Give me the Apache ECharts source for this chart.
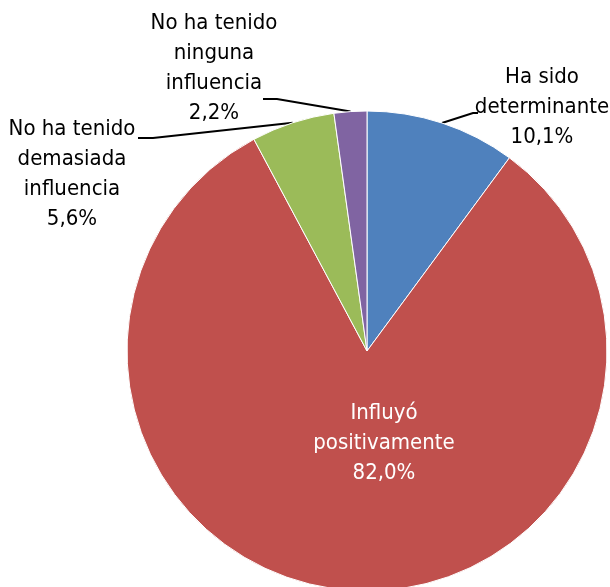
<!DOCTYPE html>
<html>
<head>
<meta charset="utf-8">
<script src="https://cdn.jsdelivr.net/npm/echarts@6/dist/echarts.min.js"></script>
<style>
  html, body { margin: 0; padding: 0; background: #fff; }
  #chart { width: 610px; height: 587px; }
</style>
</head>
<body>
<div id="chart"></div>
<script>
// categories and shares (%) in drawing order, clockwise from 12 o'clock
const categories = [
  'Ha sido\ndeterminante',
  'Influyó\npositivamente',
  'No ha tenido\ndemasiada\ninfluencia',
  'No ha tenido\nninguna\ninfluencia'
]
const values = [10.1, 82.0, 5.6, 2.2]
const colors = ['#4f81bd', '#c0504d', '#9bbb59', '#8064a2']

const center = [367, 351]
const radius = 240

// where each label block is centred, and the elbow of its leader line (px)
const labelPos = [[542, 107], [384, 443], [72, 174], [214, 68]]
const elbows = [
  [[473, 113], [478, 113]],
  null,
  [[153, 138], [138, 138]],
  [[277, 99], [263, 99]]
]

const total = values.reduce((a, b) => a + b, 0)
// point on the rim at the middle of slice i
function rimPoint (i) {
  const before = values.slice(0, i).reduce((a, b) => a + b, 0)
  const ang = (before + values[i] / 2) / total * Math.PI * 2
  return [center[0] + radius * Math.sin(ang), center[1] - radius * Math.cos(ang)]
}

const chart = echarts.init(document.getElementById('chart'))
chart.setOption({
  animation: false,
  series: [{
    type: 'pie',
    center: center,
    radius: radius,
    startAngle: 90,
    clockwise: true,
    itemStyle: {
      borderColor: '#fff',
      borderWidth: 1
    },
    label: {
      show: true,
      position: 'outside',
      fontFamily: '"DejaVu Sans Condensed", sans-serif',
      fontSize: 22,
      lineHeight: 30,
      color: '#000',
      align: 'center',
      overflow: 'none',
      formatter: p => p.name + '\n' + p.value.toFixed(1).replace('.', ',') + '%'
    },
    labelLine: {
      show: true,
      lineStyle: { color: '#000', width: 2 }
    },
    labelLayout: params => {
      const i = params.dataIndex
      const res = {
        x: labelPos[i][0],
        y: labelPos[i][1],
        align: 'center',
        verticalAlign: 'middle'
      }
      if (elbows[i]) {
        res.labelLinePoints = [rimPoint(i)].concat(elbows[i])
      }
      return res
    },
    data: values.map((v, i) => ({
      name: categories[i],
      value: v,
      itemStyle: { color: colors[i] },
      label: i === 1 ? { color: '#fff' } : undefined,
      labelLine: i === 1 ? { show: false } : undefined
    }))
  }]
})
</script>
</body>
</html>
